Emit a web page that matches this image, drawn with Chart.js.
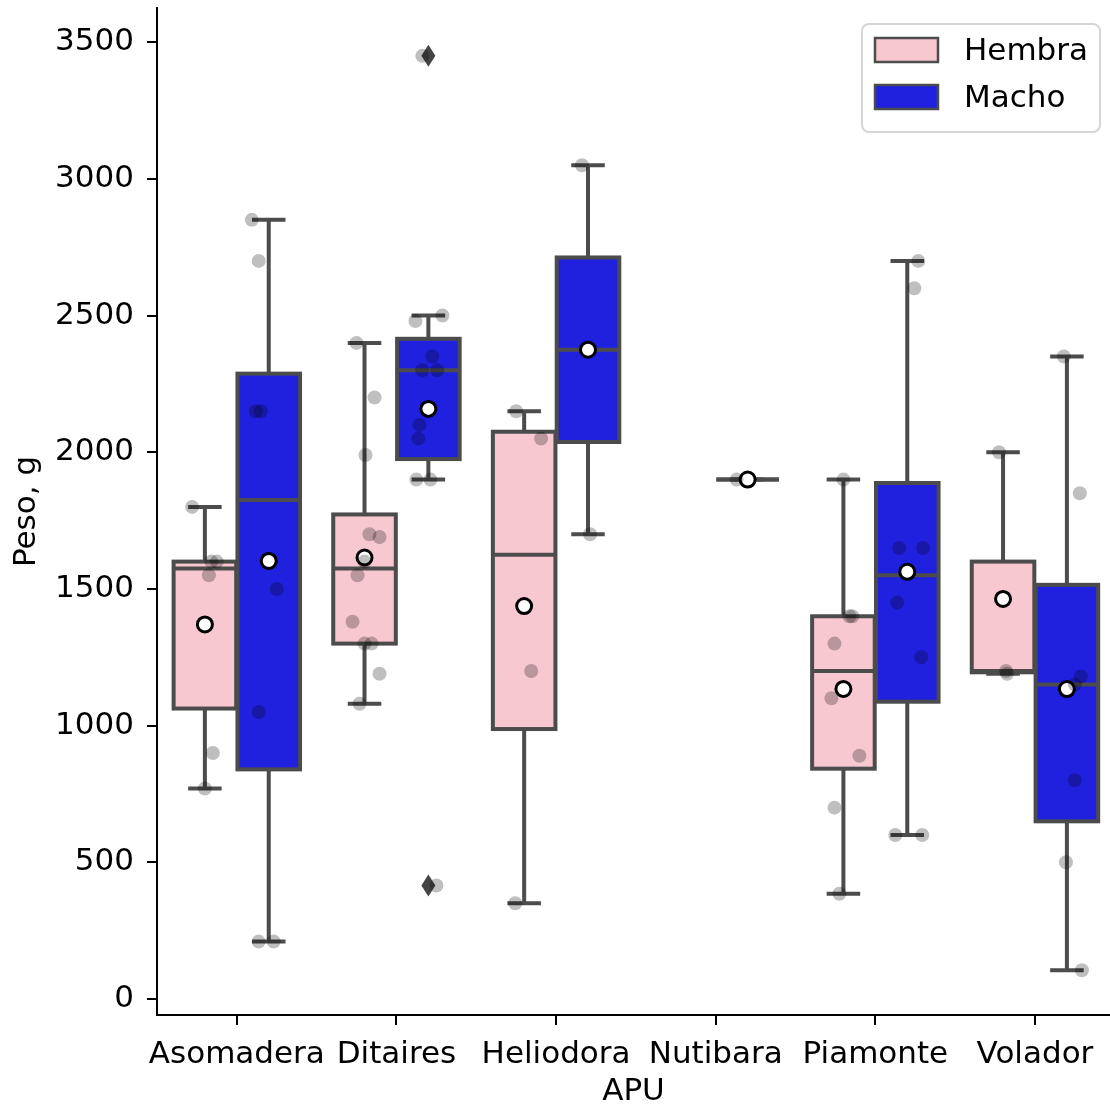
<!DOCTYPE html>
<html>
<head>
<meta charset="utf-8">
<script src="https://cdn.jsdelivr.net/npm/chart.js@4.4.1/dist/chart.umd.min.js"></script>
<style>
  html, body { margin: 0; padding: 0; background: #fff; }
  canvas { display: block; }
</style>
</head>
<body>
<canvas id="chart" width="1110" height="1111"></canvas>
<script>
const categories = ['Asomadera', 'Ditaires', 'Heliodora', 'Nutibara', 'Piamonte', 'Volador'];
const hues = ['Hembra', 'Macho'];
const yTicks = [0, 500, 1000, 1500, 2000, 2500, 3000, 3500];

const hembraValues = [
  [1800, 1600, 1600, 1550, 900, 770],
  [2400, 2200, 1990, 1700, 1690, 1600, 1550, 1380, 1300, 1300, 1190, 1080],
  [2150, 2050, 1200, 350],
  [],
  [1900, 1400, 1400, 1300, 1100, 890, 700, 385],
  [2000, 1200, 1190]
];
const machoValues = [
  [2850, 2700, 2150, 2150, 1500, 1050, 210, 210],
  [3450, 2500, 2480, 2350, 2300, 2300, 2100, 2050, 1900, 1900, 415],
  [3050, 1700],
  [1900],
  [2700, 2600, 1650, 1650, 1450, 1250, 600, 600],
  [2350, 1850, 1180, 1150, 800, 500, 105]
];
// horizontal jitter of each strip point (x units)
const hembraJitter = [
  [-0.08, 0.04, 0.075, 0.025, 0.05, 0],
  [-0.05, 0.063, 0.006, 0.031, 0.094, 0, -0.044, -0.075, 0, 0.044, 0.094, -0.031],
  [-0.05, 0.106, 0.044, -0.056],
  [],
  [0, 0.056, 0.038, -0.056, -0.075, 0.1, -0.056, -0.025],
  [-0.025, 0.019, 0.025]
];
const machoJitter = [
  [-0.106, -0.063, -0.081, -0.05, 0.05, -0.063, -0.063, 0.031],
  [-0.038, 0.088, -0.081, 0.025, -0.038, 0.056, -0.056, -0.063, -0.075, 0.013, 0.05],
  [-0.038, 0.013],
  [-0.069],
  [0.069, 0.044, -0.05, 0.1, -0.063, 0.088, -0.075, 0.094],
  [-0.019, 0.081, 0.088, 0.05, 0.05, -0.006, 0.094]
];

const hueColors = ['#f7c8d0', '#2020df'];
const lineGray = '#4c4c4c';
const HUE_OFFSET = 0.2;
const BOX_HALF = 0.196;
const CAP_HALF = 0.105;
const FONT = 'DejaVu Sans';

function quantile(sorted, p) {
  const pos = (sorted.length - 1) * p;
  const lo = Math.floor(pos), hi = Math.ceil(pos);
  return sorted[lo] + (sorted[hi] - sorted[lo]) * (pos - lo);
}

function boxStats(values) {
  if (!values.length) return null;
  const s = [...values].sort((a, b) => a - b);
  const q1 = quantile(s, 0.25), med = quantile(s, 0.5), q3 = quantile(s, 0.75);
  const iqr = q3 - q1;
  const loF = q1 - 1.5 * iqr, hiF = q3 + 1.5 * iqr;
  const inside = s.filter(v => v >= loF && v <= hiF);
  return {
    q1, med, q3,
    lo: inside[0], hi: inside[inside.length - 1],
    fliers: s.filter(v => v < loF || v > hiF),
    mean: s.reduce((a, b) => a + b, 0) / s.length
  };
}

const groups = [];
categories.forEach((c, i) => {
  [hembraValues[i], machoValues[i]].forEach((vals, h) => {
    groups.push({ pos: i + (h === 0 ? -HUE_OFFSET : HUE_OFFSET), hue: h, stats: boxStats(vals) });
  });
});

const stripPoints = [];
categories.forEach((c, i) => {
  hembraValues[i].forEach((v, k) => stripPoints.push({ x: i - HUE_OFFSET + hembraJitter[i][k], y: v }));
  machoValues[i].forEach((v, k) => stripPoints.push({ x: i + HUE_OFFSET + machoJitter[i][k], y: v }));
});
const meanPoints = groups.filter(g => g.stats).map(g => ({ x: g.pos, y: g.stats.mean }));

const boxPlugin = {
  id: 'boxes',
  beforeDatasetsDraw(chart) {
    const { ctx, scales: { x, y } } = chart;
    ctx.save();
    ctx.lineWidth = 4;
    ctx.strokeStyle = lineGray;
    groups.forEach(g => {
      const st = g.stats;
      if (!st) return;
      const xc = x.getPixelForValue(g.pos);
      const xl = x.getPixelForValue(g.pos - BOX_HALF);
      const xr = x.getPixelForValue(g.pos + BOX_HALF);
      const cl = x.getPixelForValue(g.pos - CAP_HALF);
      const cr = x.getPixelForValue(g.pos + CAP_HALF);
      const yq1 = y.getPixelForValue(st.q1), yq3 = y.getPixelForValue(st.q3);
      const ylo = y.getPixelForValue(st.lo), yhi = y.getPixelForValue(st.hi);
      const ymed = y.getPixelForValue(st.med);
      // whiskers and caps
      ctx.beginPath();
      ctx.moveTo(xc, yq1); ctx.lineTo(xc, ylo);
      ctx.moveTo(xc, yq3); ctx.lineTo(xc, yhi);
      ctx.moveTo(cl, ylo); ctx.lineTo(cr, ylo);
      ctx.moveTo(cl, yhi); ctx.lineTo(cr, yhi);
      ctx.stroke();
      // box
      ctx.fillStyle = hueColors[g.hue];
      ctx.fillRect(xl, yq3, xr - xl, yq1 - yq3);
      ctx.strokeRect(xl, yq3, xr - xl, yq1 - yq3);
      // median
      ctx.beginPath();
      ctx.moveTo(xl, ymed); ctx.lineTo(xr, ymed);
      ctx.stroke();
      // fliers
      ctx.fillStyle = '#444';
      st.fliers.forEach(v => {
        const yf = y.getPixelForValue(v);
        ctx.beginPath();
        ctx.moveTo(xc, yf - 11); ctx.lineTo(xc + 7, yf);
        ctx.lineTo(xc, yf + 11); ctx.lineTo(xc - 7, yf);
        ctx.closePath();
        ctx.fill();
      });
    });
    ctx.restore();
  },
  afterDraw(chart) {
    const { ctx } = chart;
    ctx.save();
    // legend frame
    const fx = 862, fy = 24, fw = 238, fh = 108, r = 7;
    ctx.beginPath();
    ctx.roundRect(fx, fy, fw, fh, r);
    ctx.fillStyle = 'rgba(255,255,255,0.8)';
    ctx.fill();
    ctx.lineWidth = 2;
    ctx.strokeStyle = '#d5d5d5';
    ctx.stroke();
    ctx.font = '31px "' + FONT + '"';
    ctx.textBaseline = 'middle';
    ctx.textAlign = 'left';
    hues.forEach((h, i) => {
      const py = 38 + i * 47;
      ctx.fillStyle = hueColors[i];
      ctx.fillRect(875, py, 63, 24);
      ctx.lineWidth = 2.5;
      ctx.strokeStyle = lineGray;
      ctx.strokeRect(875, py, 63, 24);
      ctx.fillStyle = '#000';
      ctx.fillText(h, 964, py + 14);
    });
    ctx.restore();
  }
};

const tickFont = { family: FONT, size: 31 };

new Chart(document.getElementById('chart'), {
  type: 'scatter',
  data: {
    datasets: [
      {
        label: 'strip',
        data: stripPoints,
        order: 1,
        pointRadius: 7,
        pointBackgroundColor: 'rgba(0,0,0,0.25)',
        pointBorderWidth: 0
      },
      {
        label: 'mean',
        data: meanPoints,
        order: 2,
        pointRadius: 7.5,
        pointBackgroundColor: '#fff',
        pointBorderColor: '#000',
        pointBorderWidth: 3
      }
    ]
  },
  options: {
    responsive: false,
    animation: false,
    devicePixelRatio: 1,
    layout: { autoPadding: false, padding: { top: 8, left: 0, right: 0, bottom: 0 } },
    plugins: { legend: { display: false }, tooltip: { enabled: false } },
    events: [],
    scales: {
      x: {
        type: 'linear',
        min: -0.5,
        max: 5.47,
        afterBuildTicks: s => { s.ticks = categories.map((c, i) => ({ value: i })); },
        afterFit: s => { s.height = 96; s.paddingLeft = 0; s.paddingRight = 0; },
        ticks: {
          callback: (v, i) => categories[i],
          font: tickFont, color: '#000', padding: 11, autoSkip: false, maxRotation: 0
        },
        grid: { display: true, drawOnChartArea: false, drawTicks: true, tickLength: 10, color: '#000', lineWidth: 2 },
        border: { display: true, color: '#000', width: 2 },
        title: { display: true, text: 'APU', font: tickFont, color: '#000', padding: { top: 0, bottom: 0 } }
      },
      y: {
        type: 'linear',
        min: -58.5,
        max: 3625,
        afterBuildTicks: s => { s.ticks = yTicks.map(v => ({ value: v })); },
        afterFit: s => { s.width = 157; s.paddingTop = 0; s.paddingBottom = 0; },
        ticks: { font: tickFont, color: '#000', padding: 13, callback: v => String(v) },
        grid: { display: true, drawOnChartArea: false, drawTicks: true, tickLength: 10, color: '#000', lineWidth: 2 },
        border: { display: true, color: '#000', width: 2 },
        title: { display: true, text: 'Peso, g', font: tickFont, color: '#000', padding: { top: 8, bottom: 0 } }
      }
    }
  },
  plugins: [boxPlugin]
});
</script>
</body>
</html>
